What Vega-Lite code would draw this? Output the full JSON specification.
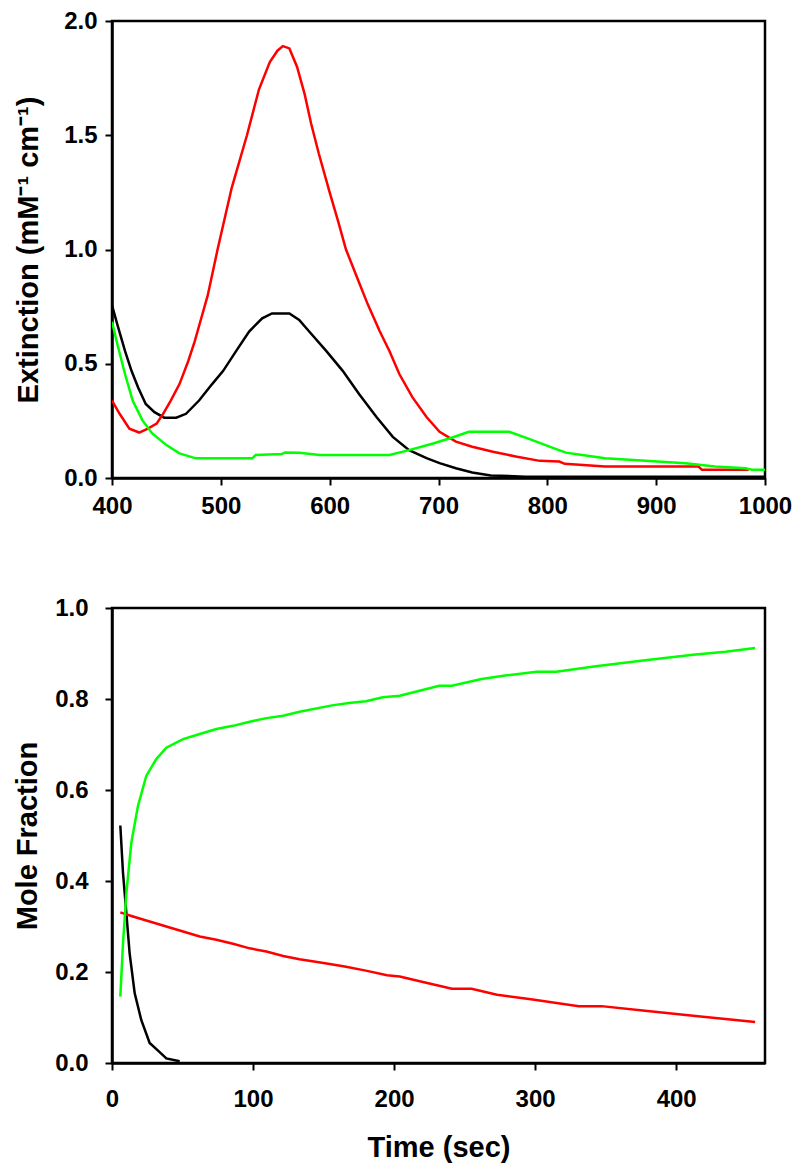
{
  "$schema": "https://vega.github.io/schema/vega-lite/v6.json",
  "background": "white",
  "padding": {"left": 12, "top": 7, "right": 5, "bottom": 5},
  "spacing": 130,
  "bounds": "flush",
  "config": {
    "view": {"stroke": "black", "strokeWidth": 2.5},
    "axis": {
      "grid": false,
      "domainColor": "black",
      "domainWidth": 2.5,
      "tickColor": "black",
      "tickWidth": 2,
      "tickSize": 7,
      "labelFont": "Liberation Sans",
      "labelFontWeight": "bold",
      "labelFontSize": 24,
      "labelColor": "black",
      "titleFont": "Liberation Sans",
      "titleFontWeight": "bold",
      "titleFontSize": 29,
      "titleColor": "black"
    },
    "line": {"strokeWidth": 2.5}
  },
  "datasets": {
    "spectra": [
      {"series": "A", "x": 400, "y": 0.756}, {"series": "A", "x": 405, "y": 0.67}, {"series": "A", "x": 412, "y": 0.555}, {"series": "A", "x": 418, "y": 0.468}, {"series": "A", "x": 424, "y": 0.396}, {"series": "A", "x": 431, "y": 0.324}, {"series": "A", "x": 439, "y": 0.288}, {"series": "A", "x": 448, "y": 0.264}, {"series": "A", "x": 459, "y": 0.264}, {"series": "A", "x": 468, "y": 0.281}, {"series": "A", "x": 480, "y": 0.339}, {"series": "A", "x": 492, "y": 0.411}, {"series": "A", "x": 502, "y": 0.468}, {"series": "A", "x": 514, "y": 0.555}, {"series": "A", "x": 526, "y": 0.641}, {"series": "A", "x": 538, "y": 0.699}, {"series": "A", "x": 547, "y": 0.72}, {"series": "A", "x": 563, "y": 0.72}, {"series": "A", "x": 572, "y": 0.692}, {"series": "A", "x": 581, "y": 0.642}, {"series": "A", "x": 597, "y": 0.555}, {"series": "A", "x": 612, "y": 0.469}, {"series": "A", "x": 627, "y": 0.368}, {"series": "A", "x": 643, "y": 0.267}, {"series": "A", "x": 658, "y": 0.18}, {"series": "A", "x": 673, "y": 0.122}, {"series": "A", "x": 689, "y": 0.087}, {"series": "A", "x": 701, "y": 0.065}, {"series": "A", "x": 716, "y": 0.043}, {"series": "A", "x": 731, "y": 0.024}, {"series": "A", "x": 748, "y": 0.011}, {"series": "A", "x": 780, "y": 0.006}, {"series": "A", "x": 822, "y": 0.005}, {"series": "A", "x": 900, "y": 0.005}, {"series": "A", "x": 1000, "y": 0.005},
      {"series": "B", "x": 400, "y": 0.339}, {"series": "B", "x": 407, "y": 0.281}, {"series": "B", "x": 416, "y": 0.216}, {"series": "B", "x": 425, "y": 0.199}, {"series": "B", "x": 433, "y": 0.216}, {"series": "B", "x": 441, "y": 0.238}, {"series": "B", "x": 447, "y": 0.281}, {"series": "B", "x": 454, "y": 0.339}, {"series": "B", "x": 462, "y": 0.411}, {"series": "B", "x": 470, "y": 0.511}, {"series": "B", "x": 476, "y": 0.598}, {"series": "B", "x": 482, "y": 0.699}, {"series": "B", "x": 488, "y": 0.8}, {"series": "B", "x": 497, "y": 1.0}, {"series": "B", "x": 510, "y": 1.27}, {"series": "B", "x": 524, "y": 1.5}, {"series": "B", "x": 535, "y": 1.7}, {"series": "B", "x": 545, "y": 1.82}, {"series": "B", "x": 552, "y": 1.87}, {"series": "B", "x": 557, "y": 1.89}, {"series": "B", "x": 563, "y": 1.88}, {"series": "B", "x": 570, "y": 1.8}, {"series": "B", "x": 577, "y": 1.68}, {"series": "B", "x": 583, "y": 1.55}, {"series": "B", "x": 590, "y": 1.42}, {"series": "B", "x": 600, "y": 1.25}, {"series": "B", "x": 608, "y": 1.12}, {"series": "B", "x": 615, "y": 1.0}, {"series": "B", "x": 625, "y": 0.88}, {"series": "B", "x": 635, "y": 0.76}, {"series": "B", "x": 646, "y": 0.642}, {"series": "B", "x": 655, "y": 0.555}, {"series": "B", "x": 664, "y": 0.455}, {"series": "B", "x": 676, "y": 0.354}, {"series": "B", "x": 689, "y": 0.267}, {"series": "B", "x": 701, "y": 0.202}, {"series": "B", "x": 716, "y": 0.159}, {"series": "B", "x": 731, "y": 0.137}, {"series": "B", "x": 750, "y": 0.115}, {"series": "B", "x": 771, "y": 0.094}, {"series": "B", "x": 793, "y": 0.075}, {"series": "B", "x": 811, "y": 0.072}, {"series": "B", "x": 816, "y": 0.062}, {"series": "B", "x": 853, "y": 0.05}, {"series": "B", "x": 939, "y": 0.05}, {"series": "B", "x": 942, "y": 0.036}, {"series": "B", "x": 985, "y": 0.036},
      {"series": "C", "x": 400, "y": 0.684}, {"series": "C", "x": 405, "y": 0.584}, {"series": "C", "x": 412, "y": 0.454}, {"series": "C", "x": 419, "y": 0.339}, {"series": "C", "x": 428, "y": 0.252}, {"series": "C", "x": 437, "y": 0.195}, {"series": "C", "x": 450, "y": 0.144}, {"series": "C", "x": 462, "y": 0.108}, {"series": "C", "x": 477, "y": 0.086}, {"series": "C", "x": 529, "y": 0.086}, {"series": "C", "x": 532, "y": 0.101}, {"series": "C", "x": 556, "y": 0.105}, {"series": "C", "x": 559, "y": 0.112}, {"series": "C", "x": 572, "y": 0.111}, {"series": "C", "x": 591, "y": 0.101}, {"series": "C", "x": 655, "y": 0.101}, {"series": "C", "x": 673, "y": 0.122}, {"series": "C", "x": 695, "y": 0.151}, {"series": "C", "x": 710, "y": 0.173}, {"series": "C", "x": 728, "y": 0.202}, {"series": "C", "x": 765, "y": 0.202}, {"series": "C", "x": 780, "y": 0.177}, {"series": "C", "x": 793, "y": 0.154}, {"series": "C", "x": 802, "y": 0.137}, {"series": "C", "x": 817, "y": 0.111}, {"series": "C", "x": 832, "y": 0.101}, {"series": "C", "x": 853, "y": 0.086}, {"series": "C", "x": 890, "y": 0.075}, {"series": "C", "x": 927, "y": 0.065}, {"series": "C", "x": 954, "y": 0.05}, {"series": "C", "x": 982, "y": 0.043}, {"series": "C", "x": 988, "y": 0.036}, {"series": "C", "x": 1000, "y": 0.036}
    ],
    "kinetics": [
      {"series": "A", "x": 5.9, "y": 0.522}, {"series": "A", "x": 7.8, "y": 0.418}, {"series": "A", "x": 10.2, "y": 0.329}, {"series": "A", "x": 12.5, "y": 0.241}, {"series": "A", "x": 16.1, "y": 0.153}, {"series": "A", "x": 20.8, "y": 0.094}, {"series": "A", "x": 26.7, "y": 0.044}, {"series": "A", "x": 33.8, "y": 0.024}, {"series": "A", "x": 38.5, "y": 0.01}, {"series": "A", "x": 48, "y": 0.004},
      {"series": "B", "x": 5.9, "y": 0.331}, {"series": "B", "x": 14.9, "y": 0.322}, {"series": "B", "x": 26.7, "y": 0.311}, {"series": "B", "x": 38.5, "y": 0.3}, {"series": "B", "x": 50.4, "y": 0.289}, {"series": "B", "x": 62.2, "y": 0.278}, {"series": "B", "x": 74, "y": 0.271}, {"series": "B", "x": 85.8, "y": 0.262}, {"series": "B", "x": 97.6, "y": 0.252}, {"series": "B", "x": 109.5, "y": 0.245}, {"series": "B", "x": 121.3, "y": 0.235}, {"series": "B", "x": 133, "y": 0.228}, {"series": "B", "x": 150, "y": 0.22}, {"series": "B", "x": 165, "y": 0.212}, {"series": "B", "x": 180, "y": 0.203}, {"series": "B", "x": 195, "y": 0.193}, {"series": "B", "x": 204, "y": 0.19}, {"series": "B", "x": 222, "y": 0.177}, {"series": "B", "x": 241, "y": 0.163}, {"series": "B", "x": 255, "y": 0.163}, {"series": "B", "x": 273, "y": 0.15}, {"series": "B", "x": 297, "y": 0.14}, {"series": "B", "x": 331, "y": 0.125}, {"series": "B", "x": 347, "y": 0.125}, {"series": "B", "x": 378, "y": 0.115}, {"series": "B", "x": 412, "y": 0.104}, {"series": "B", "x": 456, "y": 0.09},
      {"series": "C", "x": 5.9, "y": 0.146}, {"series": "C", "x": 7.8, "y": 0.263}, {"series": "C", "x": 10.2, "y": 0.374}, {"series": "C", "x": 13.7, "y": 0.484}, {"series": "C", "x": 18.4, "y": 0.565}, {"series": "C", "x": 24.3, "y": 0.631}, {"series": "C", "x": 31.4, "y": 0.668}, {"series": "C", "x": 38.5, "y": 0.693}, {"series": "C", "x": 50.4, "y": 0.712}, {"series": "C", "x": 62.2, "y": 0.723}, {"series": "C", "x": 74, "y": 0.734}, {"series": "C", "x": 85.8, "y": 0.741}, {"series": "C", "x": 97.6, "y": 0.75}, {"series": "C", "x": 109.5, "y": 0.758}, {"series": "C", "x": 121.3, "y": 0.763}, {"series": "C", "x": 133, "y": 0.772}, {"series": "C", "x": 156, "y": 0.786}, {"series": "C", "x": 168, "y": 0.791}, {"series": "C", "x": 180, "y": 0.795}, {"series": "C", "x": 192, "y": 0.804}, {"series": "C", "x": 204, "y": 0.807}, {"series": "C", "x": 232, "y": 0.829}, {"series": "C", "x": 241, "y": 0.829}, {"series": "C", "x": 262, "y": 0.844}, {"series": "C", "x": 280, "y": 0.852}, {"series": "C", "x": 301, "y": 0.86}, {"series": "C", "x": 315, "y": 0.86}, {"series": "C", "x": 343, "y": 0.872}, {"series": "C", "x": 378, "y": 0.885}, {"series": "C", "x": 412, "y": 0.897}, {"series": "C", "x": 435, "y": 0.904}, {"series": "C", "x": 456, "y": 0.912}
    ]
  },
  "vconcat": [
    {
      "width": 653,
      "height": 457,
      "data": {"name": "spectra"},
      "mark": {"type": "line", "clip": true},
      "encoding": {
        "x": {"field": "x", "type": "quantitative", "scale": {"domain": [400, 1000], "nice": false, "zero": false},
              "axis": {"title": null, "values": [400, 500, 600, 700, 800, 900, 1000], "format": "d", "labelPadding": 9, "labelFlush": false}},
        "y": {"field": "y", "type": "quantitative", "scale": {"domain": [0, 2], "nice": false},
              "axis": {"title": "Extinction (mM⁻¹ cm⁻¹)", "values": [0, 0.5, 1, 1.5, 2], "format": ".1f", "labelPadding": 8, "titlePadding": 20}},
        "color": {"field": "series", "type": "nominal", "scale": {"domain": ["A", "B", "C"], "range": ["#000000", "#ff0000", "#00ff00"]}, "legend": null}
      }
    },
    {
      "width": 653,
      "height": 455,
      "data": {"name": "kinetics"},
      "mark": {"type": "line", "clip": true},
      "encoding": {
        "x": {"field": "x", "type": "quantitative", "scale": {"domain": [0, 463], "nice": false},
              "axis": {"title": "Time (sec)", "values": [0, 100, 200, 300, 400], "format": "d", "labelPadding": 17, "titlePadding": 22, "labelFlush": false}},
        "y": {"field": "y", "type": "quantitative", "scale": {"domain": [0, 1], "nice": false},
              "axis": {"title": "Mole Fraction", "values": [0, 0.2, 0.4, 0.6, 0.8, 1.0], "format": ".1f", "labelPadding": 17, "titlePadding": 12}},
        "color": {"field": "series", "type": "nominal", "scale": {"domain": ["A", "B", "C"], "range": ["#000000", "#ff0000", "#00ff00"]}, "legend": null}
      }
    }
  ]
}
